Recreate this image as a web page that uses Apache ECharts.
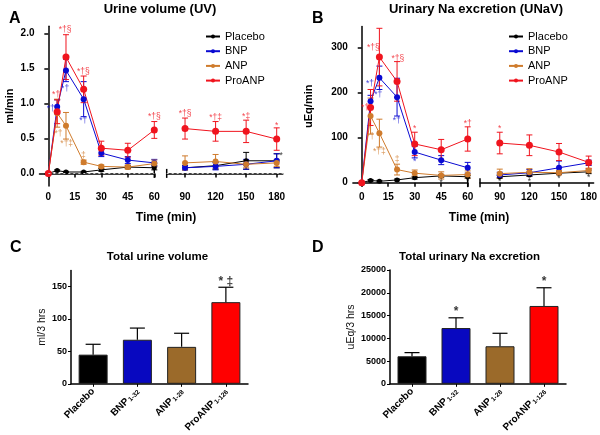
<!DOCTYPE html>
<html>
<head>
<meta charset="utf-8">
<script src="https://cdn.jsdelivr.net/npm/echarts@6/dist/echarts.min.js"></script>
<style>
html,body{margin:0;padding:0;background:#fff;}
#c{width:600px;height:435px;}
</style>
</head>
<body>
<div id="c"></div>
<script>
// ---------- DATA ----------
const times = [0, 5, 10, 20, 30, 45, 60, 90, 120, 150, 180];
const groups = ['Placebo', 'BNP', 'ANP', 'ProANP'];

// Panel A: urine volume (ml/min), mean and SEM
const uvPlacebo    = [0, 0.04, 0.02, 0.02, 0.05, 0.09, 0.08, 0.08, 0.11, 0.18, 0.18];
const uvPlaceboErr = [0, 0.01, 0.01, 0.01, 0.02, 0.02, 0.03, 0.03, 0.05, 0.12, 0.10];
const uvBNP        = [0, 0.95, 1.47, 1.06, 0.29, 0.19, 0.15, 0.08, 0.10, 0.13, 0.18];
const uvBNPErr     = [0, 0.10, 0.16, 0.25, 0.05, 0.05, 0.05, 0.03, 0.05, 0.07, 0.10];
const uvANP        = [0, 0.86, 0.68, 0.16, 0.10, 0.09, 0.14, 0.15, 0.17, 0.13, 0.15];
const uvANPErr     = [0, 0.20, 0.19, 0.03, 0.02, 0.03, 0.05, 0.10, 0.10, 0.05, 0.05];
const uvPro        = [0, 0.88, 1.66, 1.20, 0.36, 0.33, 0.62, 0.64, 0.60, 0.60, 0.49];
const uvProErr     = [0, 0.17, 0.32, 0.19, 0.10, 0.10, 0.12, 0.15, 0.14, 0.16, 0.16];

// Panel B: urinary Na excretion (uEq/min), mean and SEM
const naPlacebo    = [0, 5, 3, 6, 11, 15, 13, 13, 17, 21, 24];
const naPlaceboErr = [0, 2, 2, 2, 3, 3, 3, 3, 3, 3, 4];
const naBNP        = [0, 181, 233, 190, 68, 50, 33, 17, 22, 33, 44];
const naBNPErr     = [0, 13, 26, 42, 13, 10, 12, 6, 7, 15, 6];
const naANP        = [0, 148, 110, 29, 21, 16, 18, 20, 23, 22, 27];
const naANPErr     = [0, 40, 31, 12, 7, 8, 8, 10, 8, 5, 5];
const naPro        = [0, 167, 279, 225, 86, 73, 97, 88, 83, 68, 45];
const naProErr     = [0, 40, 64, 44, 26, 23, 27, 24, 23, 19, 14];

// Significance annotations [time, value, text]
const uvNotesPro = [[4.4, 1.13, '*†'], [9.5, 2.05, '*†§'], [19.8, 1.45, '*†§'], [60, 0.81, '*†§'], [90, 0.85, '*†§'], [120, 0.79, '*†‡'], [150, 0.81, '*‡'], [180, 0.68, '*']];
const uvNotesBNP = [[1.4, 0.93, '*†'], [9.5, 1.21, '*†'], [19.8, 0.76, '*†']];
const uvNotesANP = [[5.7, 0.57, '*†'], [10.4, 0.42, '*†‡'], [19.8, 0.26, '‡']];
const uvNotesPlacebo = [[184.5, 0.26, '*']];
const naNotesPro = [[1.9, 166, '*†'], [6.6, 299, '*†§'], [20.5, 275, '*†§'], [30, 121, '*'], [60, 130, '*†'], [90, 121, '*']];
const naNotesBNP = [[4.7, 219, '*†'], [9.4, 195, '*†'], [19.8, 138, '*†'], [30, 47, '*']];
const naNotesANP = [[5, 102, '*†'], [10, 69, '*†‡'], [20, 52, '‡']];
const naNotesPlacebo = [[45, 0, '*'], [60, 2, '*'], [90, 2, '*'], [120, 2, '*'], [150, 8, '*'], [180, 11, '*']];

// Panels C/D: totals
const barCats = ['Placebo', 'BNP', 'ANP', 'ProANP'];
const barSubs = ['', '1-32', '1-28', '1-126'];
const totalUV = [45, 68, 57, 126];
const totalUVErr = [16, 18, 21, 23];
const totalNa = [6050, 12250, 8250, 17100];
const totalNaErr = [800, 2250, 2850, 4000];
const starsC = ['', '', '', '* ‡'];
const starsD = ['', '*', '', '*'];

// ---------- STYLE ----------
const FONT = 'Liberation Sans, Arial, sans-serif';
const lineColors = { Placebo: '#000000', BNP: '#0a0ad2', ANP: '#cf7b2c', ProANP: '#f0141e' };
const barColors = ['#000000', '#0808c0', '#9b6a2a', '#ff0000'];

const chart = echarts.init(document.getElementById('c'));

function errRender(color, capW) {
  return function (params, api) {
    const x = api.value(0), y = api.value(1), e = api.value(2);
    if (!e) return null;
    const p1 = api.coord([x, y + e]), p2 = api.coord([x, y - e]);
    const h = capW / 2;
    const st = { stroke: color, lineWidth: 1 };
    return {
      type: 'group', children: [
        { type: 'line', shape: { x1: p1[0], y1: p1[1], x2: p2[0], y2: p2[1] }, style: st },
        { type: 'line', shape: { x1: p1[0] - h, y1: p1[1], x2: p1[0] + h, y2: p1[1] }, style: st },
        { type: 'line', shape: { x1: p2[0] - h, y1: p2[1], x2: p2[0] + h, y2: p2[1] }, style: st }
      ]
    };
  };
}
function barErrRender(capW) {
  return function (params, api) {
    const x = api.value(0), y = api.value(1), e = api.value(2);
    const p0 = api.coord([x, y]), p1 = api.coord([x, y + e]);
    const st = { stroke: '#000', lineWidth: 1.2 };
    return {
      type: 'group', children: [
        { type: 'line', shape: { x1: p0[0], y1: p0[1], x2: p1[0], y2: p1[1] }, style: st },
        { type: 'line', shape: { x1: p1[0] - capW / 2, y1: p1[1], x2: p1[0] + capW / 2, y2: p1[1] }, style: st }
      ]
    };
  };
}

const series = [];
function addTimeSeries(name, vals, errs, x1, x2, y1, y2, size) {
  const color = lineColors[name];
  const segs = [
    { xi: x1, yi: y1, filt: t => t <= 60 },
    { xi: x2, yi: y2, filt: t => t >= 90 }
  ];
  segs.forEach(s => {
    const pts = [], eps = [];
    times.forEach((t, i) => {
      if (s.filt(t)) { pts.push([t, vals[i]]); eps.push([t, vals[i], errs[i]]); }
    });
    series.push({
      type: 'custom', xAxisIndex: s.xi, yAxisIndex: s.yi, silent: true,
      renderItem: errRender(color, 6), data: eps, z: 2
    });
    series.push({
      type: 'line', name: name, xAxisIndex: s.xi, yAxisIndex: s.yi,
      data: pts, symbol: 'circle', symbolSize: size, color: color,
      lineStyle: { width: 1, color: color }, itemStyle: { color: color },
      animation: false, z: 3
    });
  });
}
function addNotes(notes, color, x1, x2, y1, y2, split) {
  const a = notes.filter(n => n[0] <= split), b = notes.filter(n => n[0] > split);
  [[a, x1, y1], [b, x2, y2]].forEach(([d, xi, yi]) => {
    if (!d.length) return;
    series.push({
      type: 'scatter', xAxisIndex: xi, yAxisIndex: yi, data: d, symbolSize: 0, silent: true, z: 5,
      label: { show: true, position: 'inside', formatter: p => p.data[2], color: color, fontSize: 8.5, fontFamily: FONT }
    });
  });
}

// Panel A: x axes 0 (seg1), 1 (seg2); y axes 0,1. Panel B: x 2,3; y 2,3
addTimeSeries('Placebo', uvPlacebo, uvPlaceboErr, 0, 1, 0, 1, 5);
addTimeSeries('BNP', uvBNP, uvBNPErr, 0, 1, 0, 1, 6);
addTimeSeries('ANP', uvANP, uvANPErr, 0, 1, 0, 1, 6);
addTimeSeries('ProANP', uvPro, uvProErr, 0, 1, 0, 1, 7);
addTimeSeries('Placebo', naPlacebo, naPlaceboErr, 2, 3, 2, 3, 5);
addTimeSeries('BNP', naBNP, naBNPErr, 2, 3, 2, 3, 6);
addTimeSeries('ANP', naANP, naANPErr, 2, 3, 2, 3, 6);
addTimeSeries('ProANP', naPro, naProErr, 2, 3, 2, 3, 7);
addNotes(uvNotesPro, lineColors.ProANP, 0, 1, 0, 1, 60);
addNotes(uvNotesBNP, lineColors.BNP, 0, 1, 0, 1, 60);
addNotes(uvNotesANP, lineColors.ANP, 0, 1, 0, 1, 60);
addNotes(uvNotesPlacebo, '#000', 0, 1, 0, 1, 60);
addNotes(naNotesPro, lineColors.ProANP, 2, 3, 2, 3, 60);
addNotes(naNotesBNP, lineColors.BNP, 2, 3, 2, 3, 60);
addNotes(naNotesANP, lineColors.ANP, 2, 3, 2, 3, 60);
addNotes(naNotesPlacebo, '#000', 2, 3, 2, 3, 60);

// zero reference dotted line in panel A
const zeroLine = { silent: true, symbol: 'none', label: { show: false }, lineStyle: { type: [2, 3], color: '#cfcfcf', width: 1 } };
series.push({
  type: 'line', xAxisIndex: 0, yAxisIndex: 0, data: [], silent: true, z: 1,
  markLine: Object.assign({ data: [[{ coord: [0, 0] }, { coord: [60, 0] }]] }, zeroLine)
});
series.push({
  type: 'line', xAxisIndex: 1, yAxisIndex: 1, data: [], silent: true, z: 1,
  markLine: Object.assign({ data: [{ yAxis: 0 }] }, zeroLine)
});

// Bars
series.push({
  type: 'bar', xAxisIndex: 4, yAxisIndex: 4, barWidth: 29,
  data: totalUV.map((v, i) => ({ value: v, itemStyle: { color: barColors[i] } })),
  itemStyle: { borderColor: '#222', borderWidth: 1 }, animation: false
});
series.push({
  type: 'custom', xAxisIndex: 4, yAxisIndex: 4, renderItem: barErrRender(15),
  data: totalUV.map((v, i) => [i, v, totalUVErr[i]]), z: 3
});
series.push({
  type: 'scatter', xAxisIndex: 4, yAxisIndex: 4, symbolSize: 0, silent: true,
  data: totalUV.map((v, i) => [i, v + totalUVErr[i], starsC[i]]),
  label: { show: true, position: 'top', distance: 0, formatter: p => p.data[2], color: '#000', fontSize: 12, fontWeight: 'bold', fontFamily: FONT }
});
series.push({
  type: 'bar', xAxisIndex: 5, yAxisIndex: 5, barWidth: 29,
  data: totalNa.map((v, i) => ({ value: v, itemStyle: { color: barColors[i] } })),
  itemStyle: { borderColor: '#222', borderWidth: 1 }, animation: false
});
series.push({
  type: 'custom', xAxisIndex: 5, yAxisIndex: 5, renderItem: barErrRender(15),
  data: totalNa.map((v, i) => [i, v, totalNaErr[i]]), z: 3
});
series.push({
  type: 'scatter', xAxisIndex: 5, yAxisIndex: 5, symbolSize: 0, silent: true,
  data: totalNa.map((v, i) => [i, v + totalNaErr[i], starsD[i]]),
  label: { show: true, position: 'top', distance: 0, formatter: p => p.data[2], color: '#000', fontSize: 12, fontWeight: 'bold', fontFamily: FONT }
});

const axLine = { show: true, lineStyle: { color: '#000', width: 1.5 } };
const tickLbl = { color: '#000', fontSize: 10, fontWeight: 'bold', fontFamily: FONT };

function timeAxis(grid, min, max, ticks, sym) {
  return {
    type: 'value', gridIndex: grid, min: min, max: max,
    axisLine: { show: true, lineStyle: { color: '#000', width: 1.5 }, symbol: sym, symbolSize: [9, 1.5] },
    axisTick: { show: true, length: 4, customValues: ticks, lineStyle: { color: '#000', width: 1.5 } },
    axisLabel: Object.assign({ customValues: ticks, margin: 6 }, tickLbl),
    splitLine: { show: false }
  };
}
function hiddenY(grid, min, max) {
  return { type: 'value', gridIndex: grid, min: min, max: max, show: false, splitLine: { show: false } };
}

const barLabel = {
  rotate: 45, interval: 0, margin: 6,
  formatter: (v, i) => barSubs[i] ? '{n|' + v + '}{s|' + barSubs[i] + '}' : '{n|' + v + '}',
  rich: {
    n: { fontSize: 10, fontWeight: 'bold', color: '#000', fontFamily: FONT },
    s: { fontSize: 6.5, fontWeight: 'bold', color: '#000', fontFamily: FONT, padding: [4, 0, 0, 1] }
  }
};

const legendBase = {
  orient: 'vertical', itemWidth: 14, itemHeight: 5, itemGap: 3.7,
  textStyle: { fontSize: 11, color: '#000', fontFamily: FONT },
  data: groups, selectedMode: false
};

const titleText = (t, left, top, size, weight, align) => ({
  text: t, left: left, top: top, textAlign: align || 'center',
  textStyle: { fontSize: size, fontWeight: weight || 'bold', color: '#000', fontFamily: FONT }
});

chart.setOption({
  animation: false,
  textStyle: { fontFamily: FONT },
  title: [
    titleText('A', 4, 6, 16, 'bold', 'left'),
    titleText('Urine volume (UV)', 155, -2, 13),
    titleText('B', 307, 6, 16, 'bold', 'left'),
    titleText('Urinary Na excretion (UNaV)', 471, -2, 13),
    titleText('Time (min)', 161, 207, 12),
    titleText('Time (min)', 474, 207, 12),
    titleText('C', 5, 235, 16, 'bold', 'left'),
    titleText('Total urine volume', 152.5, 246, 11.5),
    titleText('D', 307, 235, 16, 'bold', 'left'),
    titleText('Total urinary Na excretion', 464.5, 246, 11.5)
  ],
  legend: [
    Object.assign({}, legendBase, { left: 200, top: 26 }),
    Object.assign({}, legendBase, { left: 503, top: 26 })
  ],
  grid: [
    { left: 39.5, top: 26.3, width: 114.8, height: 159.7 },
    { left: 166.7, top: 26.3, width: 116.1, height: 159.7 },
    { left: 352.9, top: 26.5, width: 114.8, height: 159.5 },
    { left: 480, top: 26.5, width: 115, height: 159.5 },
    { left: 71, top: 270.4, width: 177, height: 116.3 },
    { left: 390, top: 270, width: 176, height: 116.7 }
  ],
  xAxis: [
    timeAxis(0, -5, 60, [0, 15, 30, 45, 60], ['none', 'rect']),
    timeAxis(1, 72, 186, [90, 120, 150, 180], ['rect', 'none']),
    timeAxis(2, -5, 60, [0, 15, 30, 45, 60], ['none', 'rect']),
    timeAxis(3, 70, 185, [90, 120, 150, 180], ['rect', 'none']),
    { type: 'category', gridIndex: 4, data: barCats, axisLine: axLine,
      axisTick: { show: true, alignWithLabel: true, length: 3, lineStyle: { color: '#000' } }, axisLabel: barLabel },
    { type: 'category', gridIndex: 5, data: barCats, axisLine: axLine,
      axisTick: { show: true, alignWithLabel: true, length: 3, lineStyle: { color: '#000' } }, axisLabel: barLabel }
  ],
  yAxis: [
    { type: 'value', gridIndex: 0, min: -0.18, max: 2.1, axisLine: axLine,
      axisTick: { show: true, length: 4, customValues: [0, 0.5, 1, 1.5, 2], lineStyle: { color: '#000', width: 1.5 } },
      axisLabel: Object.assign({ customValues: [0, 0.5, 1, 1.5, 2], formatter: v => v.toFixed(1), margin: 5 }, tickLbl),
      splitLine: { show: false },
      name: 'ml/min', nameLocation: 'middle', nameGap: 24,
      nameTextStyle: { fontSize: 11, fontWeight: 'bold', color: '#000', fontFamily: FONT } },
    hiddenY(1, -0.18, 2.1),
    { type: 'value', gridIndex: 2, min: -7.5, max: 347, axisLine: axLine,
      axisTick: { show: true, length: 4, customValues: [0, 100, 200, 300], lineStyle: { color: '#000', width: 1.5 } },
      axisLabel: Object.assign({ customValues: [0, 100, 200, 300], margin: 5 }, tickLbl),
      splitLine: { show: false },
      name: 'uEq/min', nameLocation: 'middle', nameGap: 38,
      nameTextStyle: { fontSize: 11, fontWeight: 'bold', color: '#000', fontFamily: FONT } },
    hiddenY(3, -7.5, 347),
    { type: 'value', gridIndex: 4, min: 0, max: 175, axisLine: axLine,
      axisTick: { show: true, length: 3, customValues: [0, 50, 100, 150], lineStyle: { color: '#000' } },
      axisLabel: { customValues: [0, 50, 100, 150], fontSize: 9, fontWeight: 'bold', color: '#000', fontFamily: FONT, margin: 4 },
      splitLine: { show: false },
      name: 'ml/3 hrs', nameLocation: 'middle', nameGap: 15,
      nameTextStyle: { fontSize: 10.5, color: '#111', fontFamily: FONT } },
    { type: 'value', gridIndex: 5, min: 0, max: 25000, axisLine: axLine,
      axisTick: { show: true, length: 3, customValues: [0, 5000, 10000, 15000, 20000, 25000], lineStyle: { color: '#000' } },
      axisLabel: { customValues: [0, 5000, 10000, 15000, 20000, 25000], formatter: v => String(v), fontSize: 9, fontWeight: 'bold', color: '#000', fontFamily: FONT, margin: 4 },
      splitLine: { show: false },
      name: 'uEq/3 hrs', nameLocation: 'middle', nameGap: 25,
      nameTextStyle: { fontSize: 10.5, color: '#111', fontFamily: FONT } }
  ],
  series: series
});
</script>
</body>
</html>
